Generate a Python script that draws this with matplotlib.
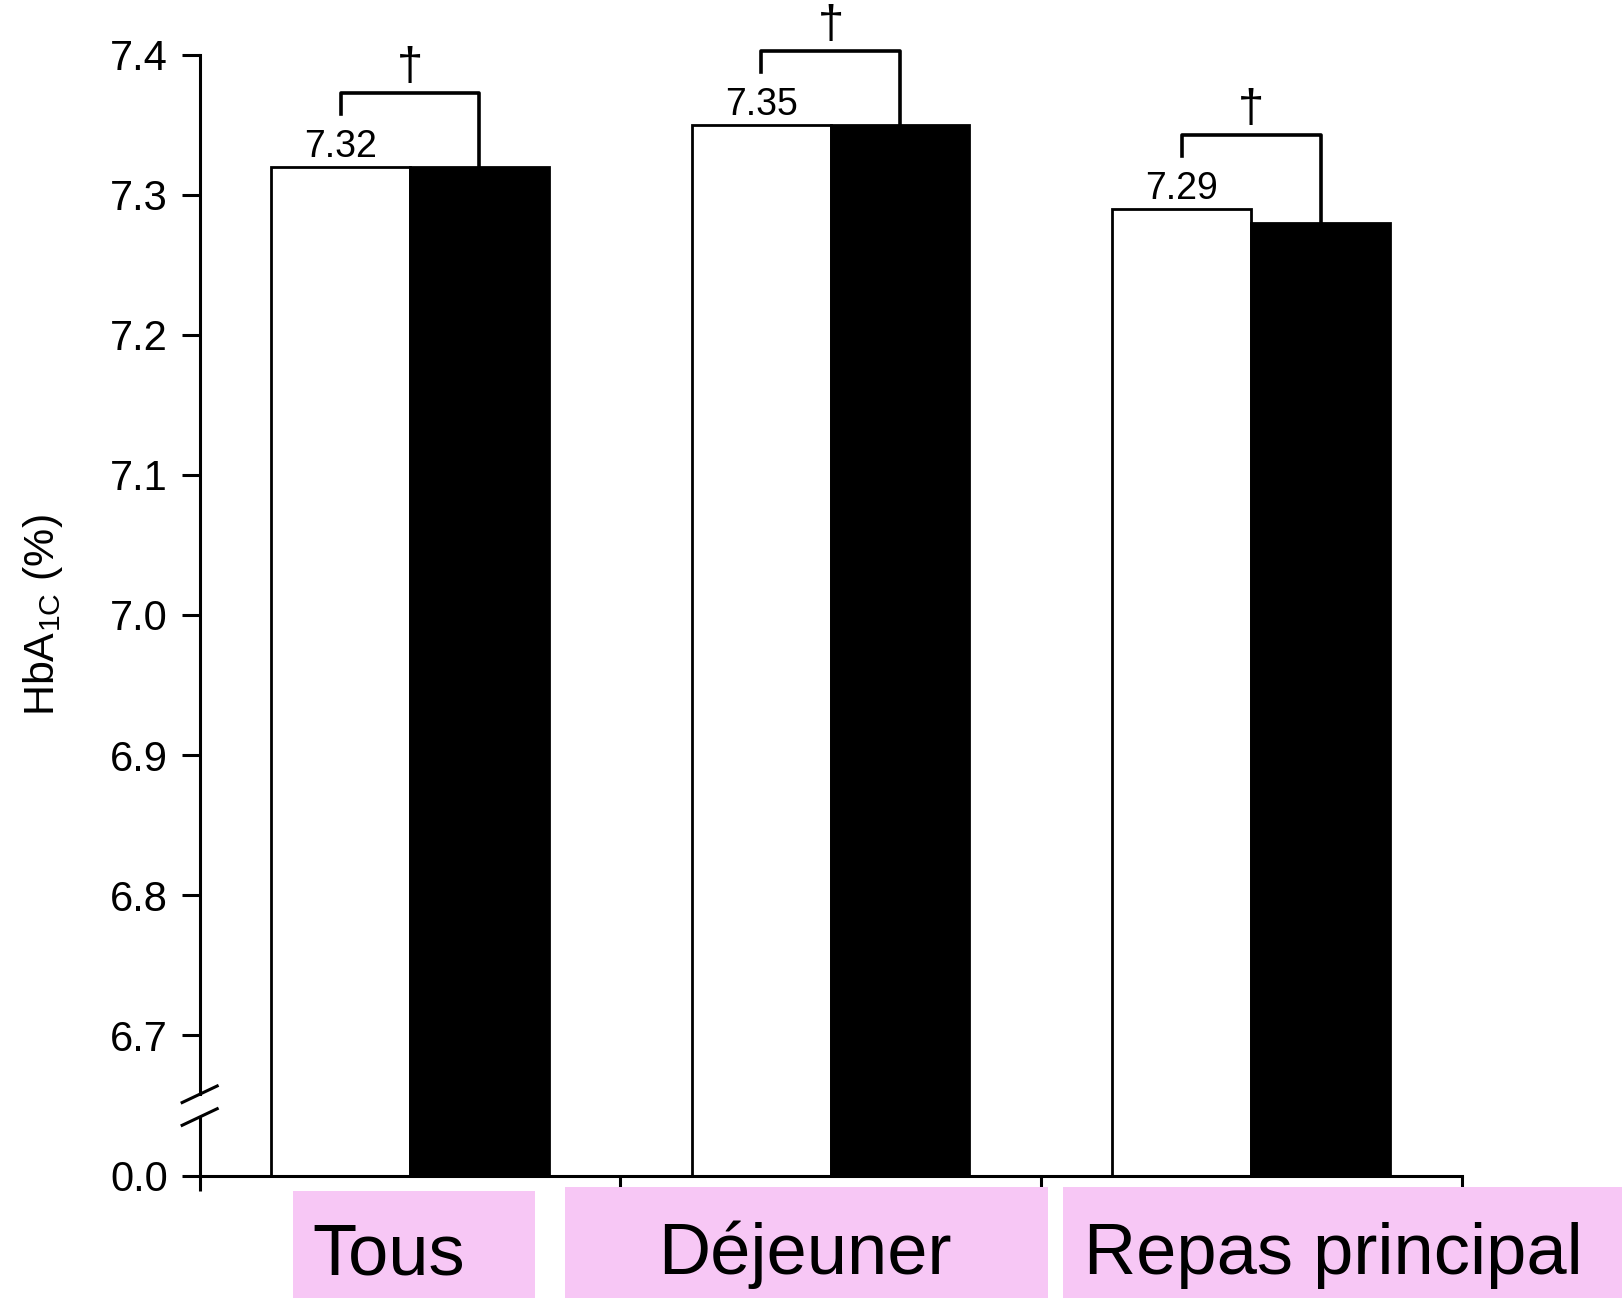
import numpy as np
import matplotlib
matplotlib.use('Agg')
import matplotlib.pyplot as plt
from matplotlib.patches import Rectangle
from matplotlib.ticker import FixedLocator, FormatStrFormatter

plt.rcParams['font.family'] = ['Liberation Sans', 'DejaVu Sans']
plt.rcParams['mathtext.default'] = 'regular'

categories = ['Tous', 'Déjeuner', 'Repas principal']
white_vals = [7.32, 7.35, 7.29]
black_vals = [7.32, 7.35, 7.28]
yticks = [0.0, 6.7, 6.8, 6.9, 7.0, 7.1, 7.2, 7.3, 7.4]

# broken axis: everything below BREAK is squeezed onto the 0.0 tick
BREAK = 6.6
def fwd(v):
	v = np.asarray(v, float)
	return np.where(v >= BREAK, v, BREAK + (v - BREAK) * 1e-4)

def inv(y):
	y = np.asarray(y, float)
	return np.where(y >= BREAK, y, BREAK + (y - BREAK) * 1e4)

fig = plt.figure(figsize=(16.22, 12.98), dpi=100)
ax = fig.add_axes([0.1231, 0.0940, 0.7780, 0.8637])

ax.set_yscale('function', functions=(fwd, inv))
ax.set_ylim(0, 7.4)
ax.set_xlim(-0.5, 2.5)

x = np.arange(len(categories))
w = 0.33
ax.bar(x - w/2, white_vals, width=w, bottom=0, color='white', edgecolor='black', linewidth=2.0, zorder=2)
ax.bar(x + w/2, black_vals, width=w, bottom=0, color='black', edgecolor='black', linewidth=2.0, zorder=2)

for xi, wv, bv in zip(x, white_vals, black_vals):
	ax.annotate('%.2f' % wv, (xi - w/2, wv), xytext=(0, 7), textcoords='offset points',
		ha='center', va='baseline', fontsize=27, annotation_clip=False)
	top = wv + 0.053
	ax.plot([xi - w/2, xi - w/2, xi + w/2, xi + w/2], [wv + 0.038, top, top, bv],
		color='black', lw=2.6, clip_on=False, zorder=3)
	ax.annotate('\u2020', (xi, top), xytext=(0, 2), textcoords='offset points',
		ha='center', va='bottom', fontsize=34, annotation_clip=False)

# axes styling
for s in ['top', 'right', 'left']:
	ax.spines[s].set_visible(False)
ax.spines['bottom'].set_linewidth(2.2)

ax.yaxis.set_major_locator(FixedLocator(yticks))
ax.yaxis.set_major_formatter(FormatStrFormatter('%.1f'))
ax.yaxis.set_minor_locator(FixedLocator([]))
ax.tick_params(axis='y', direction='out', length=13, width=2.2, pad=10, labelsize=30)
ax.set_xticks([-0.5, 0.5, 1.5, 2.5])
ax.set_xticklabels([])
ax.tick_params(axis='x', direction='out', length=11, width=2.2)

# left spine with a gap and the two break slashes
y_hi, y_lo = 0.0729, 0.0526
ax.plot([0, 0], [1, y_hi], transform=ax.transAxes, color='black', lw=2.2, clip_on=False)
ax.plot([0, 0], [y_lo, 0], transform=ax.transAxes, color='black', lw=2.2, clip_on=False)
dx, dy = 0.0139, 0.0074
for yy in (y_hi, y_lo):
	ax.plot([-dx, dx], [yy - dy, yy + dy], transform=ax.transAxes, color='black', lw=2.2, clip_on=False)

ax.set_ylabel('HbA$_{1C}$ (%)', fontsize=31)
ax.yaxis.set_label_coords(-0.107, 0.5)

# pink category boxes under the axis
pink = '#f7c7f5'
boxes = [(0.1805, 0.1492, 0.0821), (0.3482, 0.2978, 0.0853), (0.6556, 0.3444, 0.0853)]
text_x = [0.1926, 0.4056, 0.6684]
for cat, (bx, bw, bh), tx in zip(categories, boxes, text_x):
	fig.add_artist(Rectangle((bx, 0), bw, bh, transform=fig.transFigure, facecolor=pink, edgecolor='none'))
	fig.text(tx, 0.0183, cat, fontsize=52, ha='left', va='baseline')

fig.savefig('out.png', dpi=100)
